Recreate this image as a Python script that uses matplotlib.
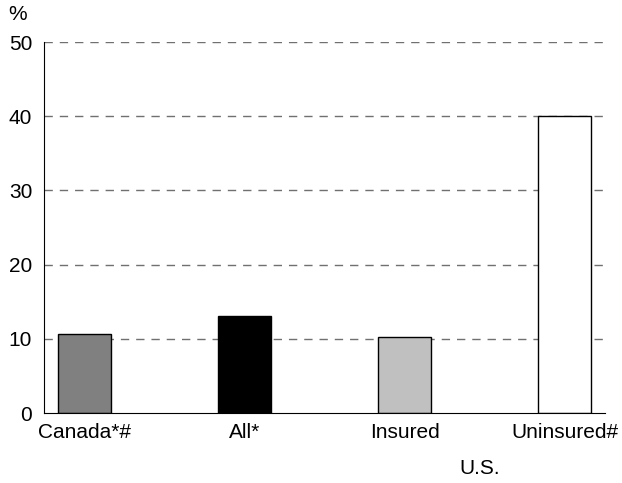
import matplotlib
matplotlib.use('Agg')
import matplotlib.pyplot as plt
import numpy as np

plt.rcParams['font.family'] = ['Liberation Sans', 'DejaVu Sans']

categories = ['Canada*#', 'All*', 'Insured', 'Uninsured#']
values = [10.7, 13.1, 10.3, 40.0]
colors = ['#808080', '#000000', '#c0c0c0', '#ffffff']
yticks = [0, 10, 20, 30, 40, 50]

fig = plt.figure(figsize=(6.22, 4.83), dpi=100)
ax = fig.add_axes([0.0707, 0.1449, 0.902, 0.7681])

x = np.arange(len(categories))
ax.bar(x, values, width=0.33, color=colors, edgecolor='black', linewidth=1, zorder=3)

ax.set_ylim(0, 50)
ax.set_xlim(-0.253, 3.253)
ax.set_yticks(yticks)
ax.set_xticks(x)
ax.set_xticklabels(categories)
ax.tick_params(axis='both', length=0, labelsize=15, colors='black')
ax.tick_params(axis='y', pad=8.5)
ax.tick_params(axis='x', pad=7)

for v in yticks[1:]:
    ax.axhline(v, color='#707070', linestyle=(0, (6, 5)), linewidth=1, zorder=1)

for s in ['top', 'right']:
    ax.spines[s].set_visible(False)
ax.spines['left'].set_zorder(4)
ax.spines['bottom'].set_zorder(4)

fig.text(0.013, 0.969, '%', fontsize=15, va='center', ha='left')
ax.text(2.47, -0.1496, 'U.S.', transform=ax.get_xaxis_transform(),
        fontsize=15, ha='center', va='center')

plt.savefig('out.png', dpi=100)
